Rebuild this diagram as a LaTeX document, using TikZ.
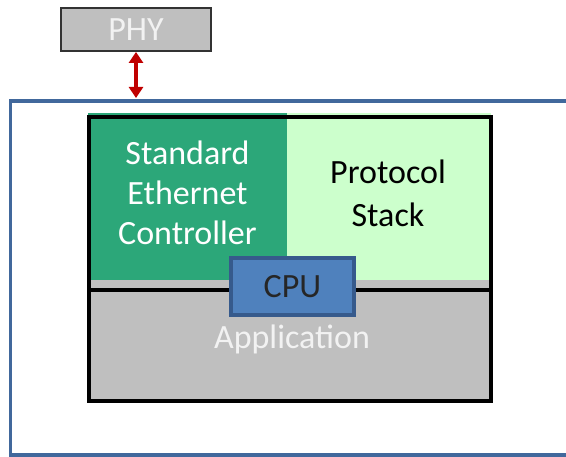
\documentclass[tikz,border=0pt]{standalone}
\usepackage{fontspec}
\setmainfont{Carlito}
\usetikzlibrary{arrows.meta}

\definecolor{boxgray}{RGB}{191,191,191}
\definecolor{ethgreen}{RGB}{44,167,121}
\definecolor{stackgreen}{RGB}{204,255,204}
\definecolor{cpublue}{RGB}{79,129,189}
\definecolor{cpuedge}{RGB}{54,90,140}
\definecolor{hostblue}{RGB}{65,104,156}
\definecolor{linkred}{RGB}{192,0,0}

\begin{document}
\begin{tikzpicture}[x=1pt,y=-1pt,
  lbl/.style={font=\fontsize{34}{40}\selectfont, inner sep=0pt, align=center},
  link/.style={{Triangle[width=14pt,length=11pt]}-{Triangle[width=14pt,length=11pt]}, linkred, line width=3.5pt},
  area/.style={inner sep=0pt, outer sep=0pt, anchor=north west}]
\useasboundingbox (0,0) rectangle (566,457);

% PHY and link
\node[lbl, draw=black!80, line width=1.5pt, fill=boxgray, text=white!95!black,
  minimum width=150, minimum height=43] (phy) at (136,29.7) {PHY};
\draw[hostblue, line width=3.5pt] (590,101) -- (10.5,101) -- (10.5,455) -- (590,455);
\coordinate (hosttop) at (136,98);
\draw[link] (phy.south) -- (hosttop);

% Areas
\node[area, fill=boxgray, minimum width=403, minimum height=122] (app) at (88,279) {};
\node[area, fill=ethgreen, minimum width=199, minimum height=167] (eth) at (88,113) {};
\node[area, fill=stackgreen, minimum width=204, minimum height=167] (stack) at (287,113) {};
\draw[line width=4pt] (app.west |- 0,290) -- (app.east |- 0,290);
\draw[line width=4pt] (89,117) rectangle (490.5,401);

% Labels
\node[lbl, text=white] (ethtxt) at (187.5,193) {Standard\\Ethernet\\Controller};
\node[lbl] (stacktxt) at (388,193) {Protocol\\[3pt]Stack};
\node[lbl, text=white!95!black, anchor=base] (apptxt) at (292,349) {Application};

% CPU
\node[lbl, draw=cpuedge, line width=4pt, fill=cpublue, text=black!85,
  minimum width=123, minimum height=57] (cpu) at (292.5,286.5) {CPU};
\end{tikzpicture}
\end{document}
